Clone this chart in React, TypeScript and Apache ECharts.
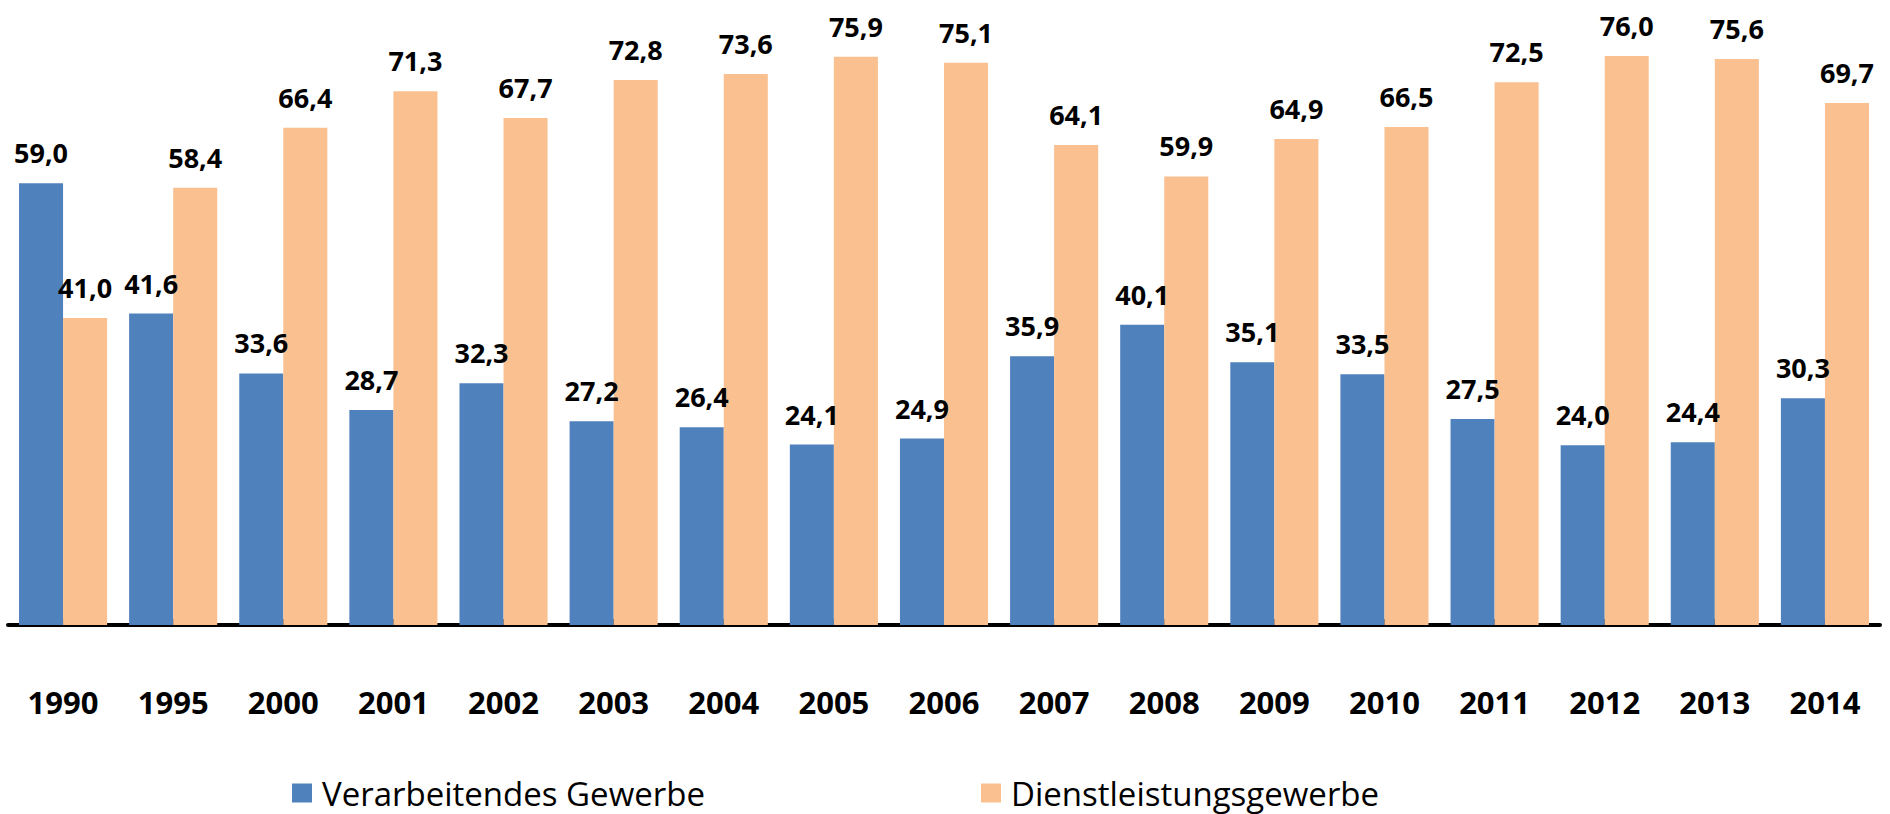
import React, { useEffect, useRef } from "react";
import * as echarts from "echarts";

const years = ["1990", "1995", "2000", "2001", "2002", "2003", "2004", "2005", "2006", "2007", "2008", "2009", "2010", "2011", "2012", "2013", "2014"];
const verarbeitendes = [59.0, 41.6, 33.6, 28.7, 32.3, 27.2, 26.4, 24.1, 24.9, 35.9, 40.1, 35.1, 33.5, 27.5, 24.0, 24.4, 30.3];
const dienstleistung = [41.0, 58.4, 66.4, 71.3, 67.7, 72.8, 73.6, 75.9, 75.1, 64.1, 59.9, 64.9, 66.5, 72.5, 76.0, 75.6, 69.7];
const seriesNames = ["Verarbeitendes Gewerbe", "Dienstleistungsgewerbe"];
const colors = ["#4F81BD", "#FAC090"];

const fmt = (v: number) => v.toFixed(1).replace(".", ",");

export default function App() {
  const ref = useRef<HTMLDivElement>(null);
  useEffect(() => {
    if (!ref.current) return;
    const chart = echarts.init(ref.current, undefined, { renderer: "svg" });
    const labelStyle = {
      show: true,
      position: "top" as const,
      distance: 17,
      fontFamily: "Open Sans",
      fontWeight: "bold" as const,
      fontSize: 27,
      color: "#000",
      formatter: (p: any) => fmt(p.value),
    };
    const legendText = { fontFamily: "Open Sans", fontSize: 33, lineHeight: 34, color: "#000", padding: [0, 0, 0, 5] };
    chart.setOption({
      animation: false,
      grid: { left: 8, right: 10, top: 26, bottom: 189 },
      legend: [
        {
          data: [seriesNames[0]],
          left: 292,
          top: 776,
          itemWidth: 20,
          itemHeight: 19,
          icon: "rect",
          padding: 0,
          textStyle: legendText,
        },
        {
          data: [seriesNames[1]],
          left: 981,
          top: 776,
          itemWidth: 20,
          itemHeight: 19,
          icon: "rect",
          padding: 0,
          textStyle: legendText,
        },
      ],
      xAxis: {
        type: "category",
        data: years,
        axisLine: { lineStyle: { color: "#000", width: 4 } },
        axisTick: { show: true, alignWithLabel: true, inside: true, length: 6, lineStyle: { color: "#000", width: 2 } },
        axisLabel: { margin: 61, fontFamily: "Open Sans", fontWeight: "bold", fontSize: 31, color: "#000" },
      },
      yAxis: { type: "value", min: 0, max: 80, show: false, splitLine: { show: false } },
      series: [
        {
          name: seriesNames[0],
          type: "bar",
          data: verarbeitendes,
          itemStyle: { color: colors[0] },
          barGap: "0%",
          barCategoryGap: "20%",
          label: labelStyle,
        },
        {
          name: seriesNames[1],
          type: "bar",
          data: dienstleistung,
          itemStyle: { color: colors[1] },
          barGap: "0%",
          barCategoryGap: "20%",
          label: labelStyle,
        },
      ],
    });
    return () => chart.dispose();
  }, []);
  return <div ref={ref} style={{ position: "fixed", left: 0, top: 0, width: 1890, height: 814, background: "#fff" }} />;
}
